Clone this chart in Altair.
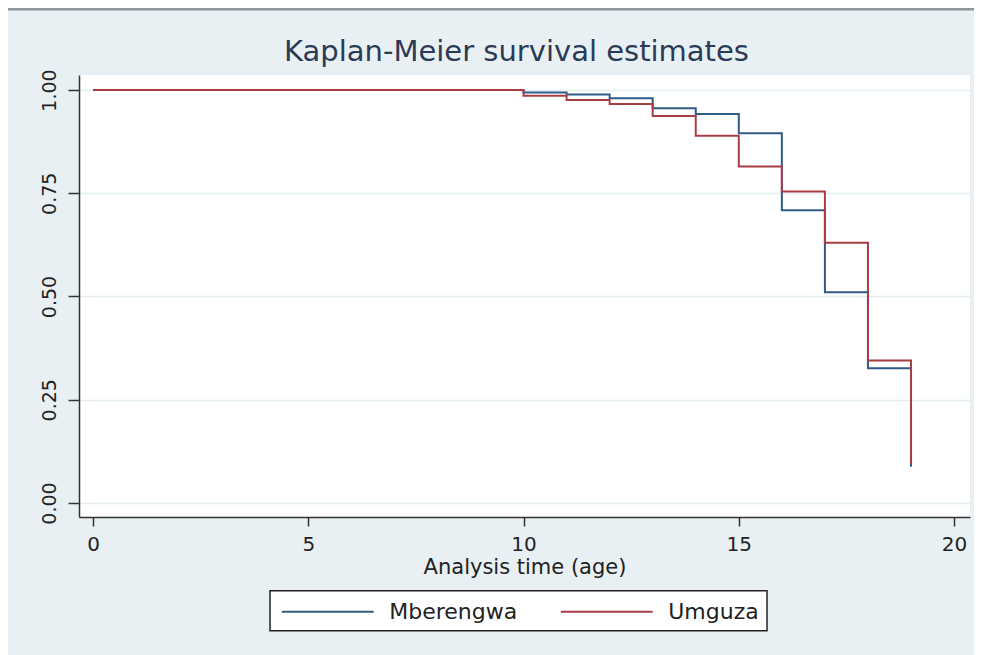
import altair as alt
import pandas as pd

# ---- data ----
times = [0, 10, 11, 12, 13, 14, 15, 16, 17, 18, 19]
mberengwa = [1.0, 0.994, 0.989, 0.980, 0.956, 0.942, 0.895, 0.709, 0.510, 0.326, 0.088]
umguza = [1.0, 0.986, 0.976, 0.966, 0.937, 0.889, 0.815, 0.754, 0.630, 0.345, 0.095]
groups = ["Mberengwa", "Umguza"]
colors = ["#2f5b86", "#a83d46"]
x_ticks = [0, 5, 10, 15, 20]
y_ticks = [0, 0.25, 0.5, 0.75, 1.0]

rows = []
for g, vals in zip(groups, [mberengwa, umguza]):
    for t, s in zip(times, vals):
        rows.append({"time": t, "survival": s, "group": g})
df = pd.DataFrame(rows)

FONT = "DejaVu Sans"
W, H = 891, 442
PAD = {"left": 71, "top": 67, "right": 4, "bottom": 138}

lines = alt.Chart(df).mark_line(interpolate="step-after", strokeWidth=2).encode(
    x=alt.X(
        "time:Q",
        scale=alt.Scale(domain=[-0.325, 20.37], nice=False, zero=False),
        axis=alt.Axis(
            values=x_ticks, format="d", title="Analysis time (age)", grid=False,
            tickSize=9, labelPadding=24, labelBaseline="alphabetic", labelFontSize=20,
            titleFontSize=21, titleY=56, titleBaseline="alphabetic",
        ),
    ),
    y=alt.Y(
        "survival:Q",
        scale=alt.Scale(domain=[-0.0339, 1.0363], nice=False, zero=False),
        axis=alt.Axis(
            values=y_ticks, format=".2f", title=None, grid=True,
            tickSize=11, labelPadding=13, labelAngle=270, labelAlign="center",
            labelBaseline="alphabetic", labelFontSize=19,
        ),
    ),
    color=alt.Color(
        "group:N",
        scale=alt.Scale(domain=groups, range=colors),
        legend=alt.Legend(
            title=None, orient="none", legendX=191, legendY=515.7,
            direction="horizontal", columns=2,
            symbolType="M-3.83,0H3.83", symbolSize=576, symbolStrokeWidth=2,
            symbolOffset=36.75, labelOffset=48.5, columnPadding=38, padding=8,
            strokeColor="#222222", fillColor="white",
            labelFontSize=22, labelFont=FONT, labelColor="#222222",
        ),
    ),
)

border = alt.Chart(pd.DataFrame({"k": [0]})).mark_rule(color="#8f959a", strokeWidth=3).encode(
    x=alt.value(-71), x2=alt.value(895), y=alt.value(-66)
)

chart = alt.layer(lines, border).properties(
    width=W, height=H,
    padding=PAD,
    autosize=alt.AutoSizeParams(type="none"),
    background="#e9f0f3",
    title=alt.TitleParams(
        "Kaplan-Meier survival estimates", fontSize=29, font=FONT, fontWeight="normal",
        color="#2b3a55", anchor="middle", offset=-59, dx=-8,
    ),
).configure_view(fill="white", strokeWidth=0).configure_axis(
    domainColor="#333333", domainWidth=1.5, tickColor="#333333", tickWidth=1.5,
    gridColor="#e4edf0", gridWidth=1.5, labelColor="#222222", titleColor="#222222",
    labelFont=FONT, titleFont=FONT, titleFontWeight="normal",
).configure_legend(strokeWidth=1.5)

chart.save("out.html", embed_options={"renderer": "svg", "actions": False})
